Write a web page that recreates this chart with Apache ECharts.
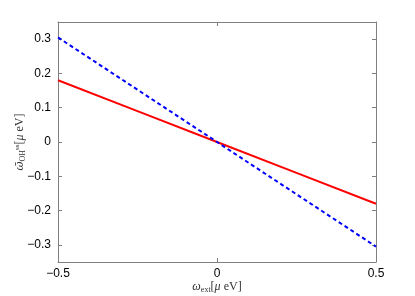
<!DOCTYPE html>
<html><head><meta charset="utf-8">
<script src="https://cdn.jsdelivr.net/npm/echarts@6/dist/echarts.min.js"></script>
<style>html,body{margin:0;padding:0;background:#fff}#c{width:415px;height:296px}</style>
</head><body><div id="c"></div>
<script>
const xValues = [-0.5, -0.25, 0, 0.25, 0.5];
const redValues = [0.18, 0.09, 0, -0.09, -0.18];
const blueValues = [0.305, 0.1525, 0, -0.1525, -0.305];
const yTicks = [-0.3, -0.2, -0.1, 0, 0.1, 0.2, 0.3];
const xTicks = [-0.5, 0, 0.5];

const fmt = v => (v === 0 ? '0' : String(v).replace('-', '\u2212'));
const axisLineStyle = {color: '#808080', width: 1};
const labelFont = {color: '#000', fontSize: 12, fontFamily: 'Liberation Sans, Arial, sans-serif'};
const serif = 'Liberation Serif, DejaVu Serif, serif';

const chart = echarts.init(document.getElementById('c'), null, {renderer: 'canvas'});
chart.setOption({
  animation: false,
  grid: {left: 58, right: 39, top: 22, bottom: 34, containLabel: false, outerBoundsMode: 'none'},
  xAxis: [{
    type: 'value', min: -0.5, max: 0.5, interval: 0.5,
    axisLine: {show: true, onZero: false, lineStyle: axisLineStyle},
    axisTick: {show: true, inside: true, length: 4, customValues: xTicks, lineStyle: axisLineStyle},
    axisLabel: Object.assign({formatter: fmt, margin: 6, customValues: xTicks}, labelFont),
    splitLine: {show: false},
    name: '{w|ω}{s|ext}{t|[}{w|μ}{t| eV]}',
    nameLocation: 'middle', nameGap: 18, nameMoveOverlap: false,
    nameTextStyle: {rich: {
      w: {fontFamily: serif, fontStyle: 'italic', fontSize: 12, color: '#333'},
      s: {fontFamily: serif, fontSize: 8, color: '#333', verticalAlign: 'bottom', padding: [6,0,0,0]},
      t: {fontFamily: serif, fontSize: 12, color: '#333'}
    }}
  }, {
    type: 'value', position: 'top', min: -0.5, max: 0.5, interval: 0.5,
    axisLine: {show: true, onZero: false, lineStyle: axisLineStyle},
    axisTick: {show: true, inside: true, length: 4, lineStyle: axisLineStyle},
    axisLabel: {show: false}, splitLine: {show: false}
  }],
  yAxis: [{
    type: 'value', min: -0.35, max: 0.35,
    axisLine: {show: true, onZero: false, lineStyle: axisLineStyle},
    axisTick: {show: true, inside: true, length: 4, customValues: yTicks, lineStyle: axisLineStyle},
    axisLabel: Object.assign({formatter: fmt, margin: 7, customValues: yTicks}, labelFont),
    splitLine: {show: false},
    name: '{w|ω̄}{s|OH}{u|ss}{t|[}{m|μ}{t| eV]}',
    nameLocation: 'middle', nameGap: 31, nameRotate: 90, nameMoveOverlap: false,
    nameTextStyle: {rich: {
      w: {fontFamily: 'DejaVu Serif, serif', fontStyle: 'italic', fontSize: 11, color: '#333'},
      m: {fontFamily: serif, fontStyle: 'italic', fontSize: 12, color: '#333'},
      s: {fontFamily: serif, fontSize: 8, color: '#333', padding: [6,0,0,0]},
      u: {fontFamily: serif, fontSize: 7, color: '#333', padding: [0,0,6,0]},
      t: {fontFamily: serif, fontSize: 12, color: '#333'}
    }}
  }, {
    type: 'value', position: 'right', min: -0.35, max: 0.35,
    axisLine: {show: true, onZero: false, lineStyle: axisLineStyle},
    axisTick: {show: true, inside: true, length: 4, customValues: yTicks, lineStyle: axisLineStyle},
    axisLabel: {show: false}, splitLine: {show: false}
  }],
  series: [{
    type: 'line', xAxisIndex: 0, yAxisIndex: 0, symbol: 'none',
    data: xValues.map((x, i) => [x, redValues[i]]),
    lineStyle: {color: '#ff0000', width: 2}
  }, {
    type: 'line', xAxisIndex: 0, yAxisIndex: 0, symbol: 'none',
    data: xValues.map((x, i) => [x, blueValues[i]]),
    lineStyle: {color: '#0000ff', width: 2, type: [4, 3]}
  }]
});
</script></body></html>
